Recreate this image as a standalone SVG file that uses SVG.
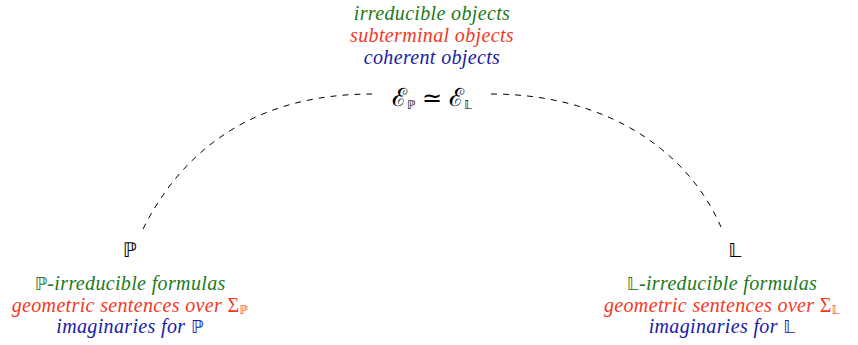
<svg xmlns="http://www.w3.org/2000/svg" width="858" height="345" viewBox="0 0 858 345">
<style>
text{font-family:"Liberation Serif",serif;font-size:20px;letter-spacing:0.35px;text-anchor:middle}
.it{font-style:italic}
.g{fill:#1b7a1b}
.r{fill:#f5371e}
.b{fill:#1a1aa6}
.k{fill:#000}
.bb{font-family:"DejaVu Sans",sans-serif;font-style:normal}
.up{font-style:normal}
.sub{font-size:12px}
.conn{fill:none;stroke:#000;stroke-width:1;stroke-dasharray:6,6}
</style>
<rect width="858" height="345" fill="#fff"/>
<g id="connectors">
<path class="conn" d="M143,229 C185,145 260,94 372,94"/>
<path class="conn" d="M491,94 C600,94 685,145 721,227"/>
</g>
<g id="node-top">
<text class="it g" x="432" y="20">irreducible objects</text>
<text class="it r" x="432" y="42">subterminal objects</text>
<text class="it b" x="432" y="64">coherent objects</text>
<text class="k" x="432" y="106"><tspan font-family="DejaVu Serif, serif" font-size="25">ℰ</tspan><tspan class="bb sub" dy="3">ℙ</tspan><tspan dy="-3" font-size="24"> ≃ </tspan><tspan font-family="DejaVu Serif, serif" font-size="25">ℰ</tspan><tspan class="bb sub" dy="3">𝕃</tspan></text>
</g>
<g id="node-P">
<text class="k bb" x="130" y="257" font-size="24">ℙ</text>
<text class="it g" x="130" y="290"><tspan class="bb" font-size="18">ℙ</tspan>-irreducible formulas</text>
<text class="it r" x="130" y="312">geometric sentences over <tspan class="up">Σ</tspan><tspan class="bb sub" dy="2">ℙ</tspan></text>
<text class="it b" x="130" y="333">imaginaries for <tspan class="bb" font-size="18">ℙ</tspan></text>
</g>
<g id="node-L">
<text class="k bb" x="735" y="257" font-size="24">𝕃</text>
<text class="it g" x="722" y="290"><tspan class="bb" font-size="18">𝕃</tspan>-irreducible formulas</text>
<text class="it r" x="722" y="312">geometric sentences over <tspan class="up">Σ</tspan><tspan class="bb sub" dy="2">𝕃</tspan></text>
<text class="it b" x="722" y="333">imaginaries for <tspan class="bb" font-size="18">𝕃</tspan></text>
</g>
</svg>
